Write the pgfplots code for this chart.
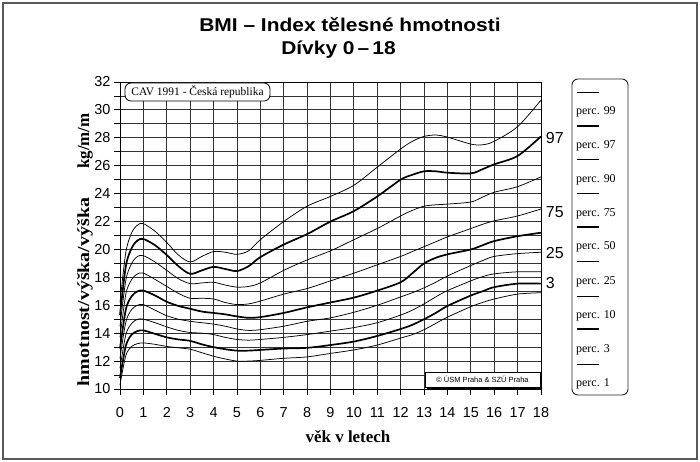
\documentclass[border=0pt]{standalone}
\usepackage{fontspec}
\setmainfont{Liberation Serif}
\newfontfamily\sansf{Liberation Sans}
\newfontfamily\titlef[FakeStretch=1.13]{Liberation Sans}
\usepackage{pgfplots}
\pgfplotsset{compat=1.18}
\usepackage{pgfplotstable}

\pgfplotstableread{
x     p1    p3    p10   p25   p50   p75   p90   p97   p99
0     10.3  10.8  11.5  12.2  12.9  13.7  14.5  15.3  16.2
0.25  12.4  13.1  13.9  14.8  15.7  16.8  17.8  18.8  19.8
0.5   13.05 13.9  14.7  15.7  16.65 17.85 19.0  20.1  21.2
0.75  13.25 14.15 15.0  16.0  17.0  18.25 19.5  20.65 21.75
1     13.3  14.2  15.0  16.05 17.05 18.3  19.55 20.75 21.85
1.5   13.2  13.95 14.75 15.65 16.7  17.85 19.1  20.3  21.3
2     13.05 13.7  14.45 15.25 16.25 17.35 18.5  19.6  20.5
2.5   12.95 13.55 14.2  15.0  15.95 16.85 17.9  18.8  19.6
3     12.85 13.45 14.05 14.85 15.75 16.5  17.55 18.25 19.1
3.5   12.6  13.2  14.0  14.75 15.55 16.5  17.6  18.5  19.5
4     12.35 13.0  13.9  14.65 15.45 16.45 17.65 18.75 19.85
4.5   12.15 12.85 13.7  14.5  15.35 16.2  17.45 18.6  19.8
5     12.0  12.75 13.55 14.3  15.2  16.05 17.3  18.45 19.65
5.5   12.0  12.75 13.5  14.2  15.1  16.1  17.35 18.8  19.9
6     12.05 12.8  13.55 14.25 15.15 16.3  17.6  19.45 20.7
7     12.2  12.9  13.7  14.5  15.45 16.8  18.5  20.35 22.0
8     12.3  12.95 13.9  14.85 15.85 17.2  19.25 21.1  23.1
9     12.55 13.15 14.15 15.1  16.2  17.75 19.9  22.0  23.8
10    12.8  13.4  14.4  15.5  16.55 18.3  20.7  22.75 24.6
11    13.15 13.8  14.75 16.0  17.05 18.9  21.5  23.8  25.9
12    13.65 14.3  15.3  16.6  17.65 19.5  22.4  25.0  27.2
12.5  13.9  14.6  15.65 16.9  18.3  19.85 22.8  25.35 27.75
13    14.25 15.0  16.1  17.25 19.0  20.2  23.1  25.6  28.1
13.5  14.7  15.45 16.6  17.65 19.4  20.55 23.2  25.6  28.2
14    15.15 15.95 17.05 18.1  19.65 20.9  23.25 25.5  28.05
15    15.9  16.7  17.75 18.85 20.0  21.5  23.4  25.45 27.55
15.5  16.2  17.0  18.05 19.2  20.3  21.8  23.75 25.75 27.5
16    16.45 17.3  18.25 19.5  20.6  22.05 24.1  26.1  27.75
17    16.8  17.55 18.4  19.7  20.95 22.4  24.5  26.7  28.8
18    16.9  17.55 18.4  19.8  21.2  22.9  25.2  28.1  30.7
}\bmi

\begin{document}
\begin{tikzpicture}[x=1bp,y=1bp]
\path[use as bounding box] (0,0) rectangle (700,462);
\draw[black!65, line width=1.2bp] (3,3) rectangle (697,459);
\node[anchor=base, inner sep=0pt, font=\titlef\bfseries\fontsize{18.6}{22}\selectfont] at (350,430.3) {BMI – Index tělesné hmotnosti};
\node[anchor=base, inner sep=0pt, font=\titlef\bfseries\fontsize{18.6}{22}\selectfont] at (338.5,407.7) {Dívky 0\,–\,18};

\begin{axis}[
  at={(120bp,73bp)}, anchor=south west,
  width=421bp, height=307bp, scale only axis,
  xmin=0, xmax=18, ymin=10, ymax=32,
  xtick={0,...,18}, ytick={10,12,...,32}, minor ytick={11,13,...,31},
  grid=both,
  major grid style={black!80, line width=0.8bp},
  minor grid style={black!80, line width=0.8bp},
  axis line style={black, line width=0.9bp},
  tick style={black, line width=0.8bp},
  tick align=outside, tick pos=left,
  major tick length=6bp, minor tick length=6bp,
  /pgf/number format/assume math mode=true,
  ticklabel style={font=\sansf\fontsize{14.5}{16}\selectfont},
  xticklabel style={yshift=-9bp},
  yticklabel style={xshift=0bp},
  clip=false,
]
\addplot[black, line width=0.75bp, smooth, tension=0.5] table[x=x,y=p1] {\bmi};
\addplot[black, line width=1.7bp, smooth, tension=0.5] table[x=x,y=p3] {\bmi};
\addplot[black, line width=0.75bp, smooth, tension=0.5] table[x=x,y=p10] {\bmi};
\addplot[black, line width=0.75bp, smooth, tension=0.5] table[x=x,y=p25] {\bmi};
\addplot[black, line width=1.7bp, smooth, tension=0.5] table[x=x,y=p50] {\bmi};
\addplot[black, line width=0.75bp, smooth, tension=0.5] table[x=x,y=p75] {\bmi};
\addplot[black, line width=0.75bp, smooth, tension=0.5] table[x=x,y=p90] {\bmi};
\addplot[black, line width=1.7bp, smooth, tension=0.5] table[x=x,y=p97] {\bmi};
\addplot[black, line width=0.75bp, smooth, tension=0.5] table[x=x,y=p99] {\bmi};
\begin{scope}[font=\sansf\fontsize{16}{18}\selectfont]
\node[anchor=west, inner sep=0pt] at (axis cs:18.2,27.95) {97};
\node[anchor=west, inner sep=0pt] at (axis cs:18.2,22.7) {75};
\node[anchor=west, inner sep=0pt] at (axis cs:18.2,19.75) {25};
\node[anchor=west, inner sep=0pt] at (axis cs:18.2,17.6) {3};
\end{scope}
\end{axis}

% axis titles
\node[rotate=90, font=\bfseries\fontsize{17}{19}\selectfont] at (85,321) {kg/m/m};
\node[rotate=90, font=\bfseries\fontsize{17}{19}\selectfont] at (85,170) {\scalebox{1.18}[1]{hmotnost/výška/výška}};
\node[font=\bfseries\fontsize{17}{19}\selectfont] at (348,25) {věk v letech};

% CAV box
\draw[black, line width=0.8bp, fill=white, rounded corners=6bp] (125,361) rectangle (270,379);
\node[font=\fontsize{11.5}{13}\selectfont] at (197.5,370) {CAV 1991 - Česká republika};

% copyright box
\fill[black] (427,73) rectangle (542,88);
\draw[black, line width=0.8bp, fill=white] (425,75) rectangle (540,90);
\node[font=\sansf\fontsize{7.5}{9}\selectfont] at (482.5,82.5) {© ÚSM Praha \& SZÚ Praha};

% legend box
\draw[black!85, line width=0.9bp, rounded corners=6bp] (572,67) rectangle (628,383);
\foreach \yl/\w in {370/0.6,336/1.4,303/0.6,269/0.6,235/1.4,201/0.6,166/0.6,133/1.4,98/0.6}{
  \draw[black, line width=\w bp] (577,\yl) -- (599,\yl);
}
\foreach \yt/\t in {350/99,316/97,282/90,248/75,215/50,180/25,146/10,112/3,78/1}{
  \node[anchor=west, inner sep=0pt, font=\fontsize{12}{14}\selectfont] at (576,\yt) {perc. \t};
}
\end{tikzpicture}
\end{document}
